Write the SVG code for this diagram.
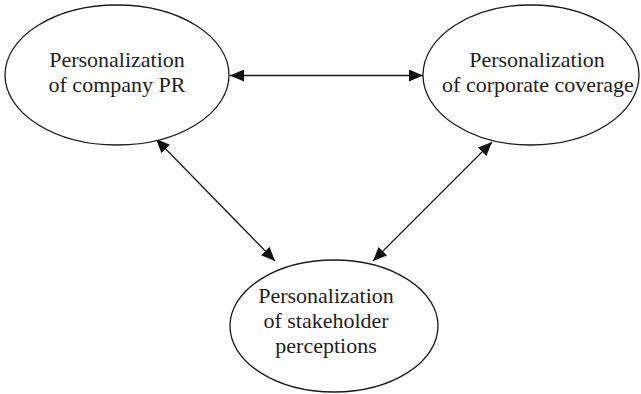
<svg xmlns="http://www.w3.org/2000/svg" width="641" height="394" viewBox="0 0 641 394">
  <defs>
    <style>
      .node ellipse { fill: #ffffff; stroke: #1a1a1a; stroke-width: 1.3; }
      .node text { font-family: "Liberation Serif", "Times New Roman", serif; font-size: 22px; fill: #1e1e1e; text-anchor: middle; }
      .edge { stroke: #1a1a1a; stroke-width: 1.3; fill: none; marker-start: url(#head); marker-end: url(#head); }
    </style>
    <marker id="head" viewBox="0 0 14 12" refX="14" refY="6" markerWidth="14" markerHeight="12" markerUnits="userSpaceOnUse" orient="auto-start-reverse">
      <path d="M0,0 L14,6 L0,12 Z" fill="#111111"/>
    </marker>
  </defs>
  <rect width="641" height="394" fill="#ffffff"/>

  <g id="connectors">
    <line class="edge" x1="230" y1="75.5" x2="423" y2="75.5"/>
    <line class="edge" x1="156" y1="139" x2="275" y2="261"/>
    <line class="edge" x1="492" y1="142" x2="373" y2="261"/>
  </g>

  <g id="company-pr" class="node">
    <ellipse cx="117" cy="75" rx="112" ry="70"/>
    <text x="117" y="67">Personalization</text>
    <text x="117" y="92">of company PR</text>
  </g>

  <g id="corporate-coverage" class="node">
    <ellipse cx="531" cy="75" rx="108" ry="70"/>
    <text x="537" y="67">Personalization</text>
    <text x="538" y="92">of corporate coverage</text>
  </g>

  <g id="stakeholder-perceptions" class="node">
    <ellipse cx="334" cy="326" rx="104" ry="66"/>
    <text x="326" y="303">Personalization</text>
    <text x="326" y="328">of stakeholder</text>
    <text x="326" y="353">perceptions</text>
  </g>
</svg>
